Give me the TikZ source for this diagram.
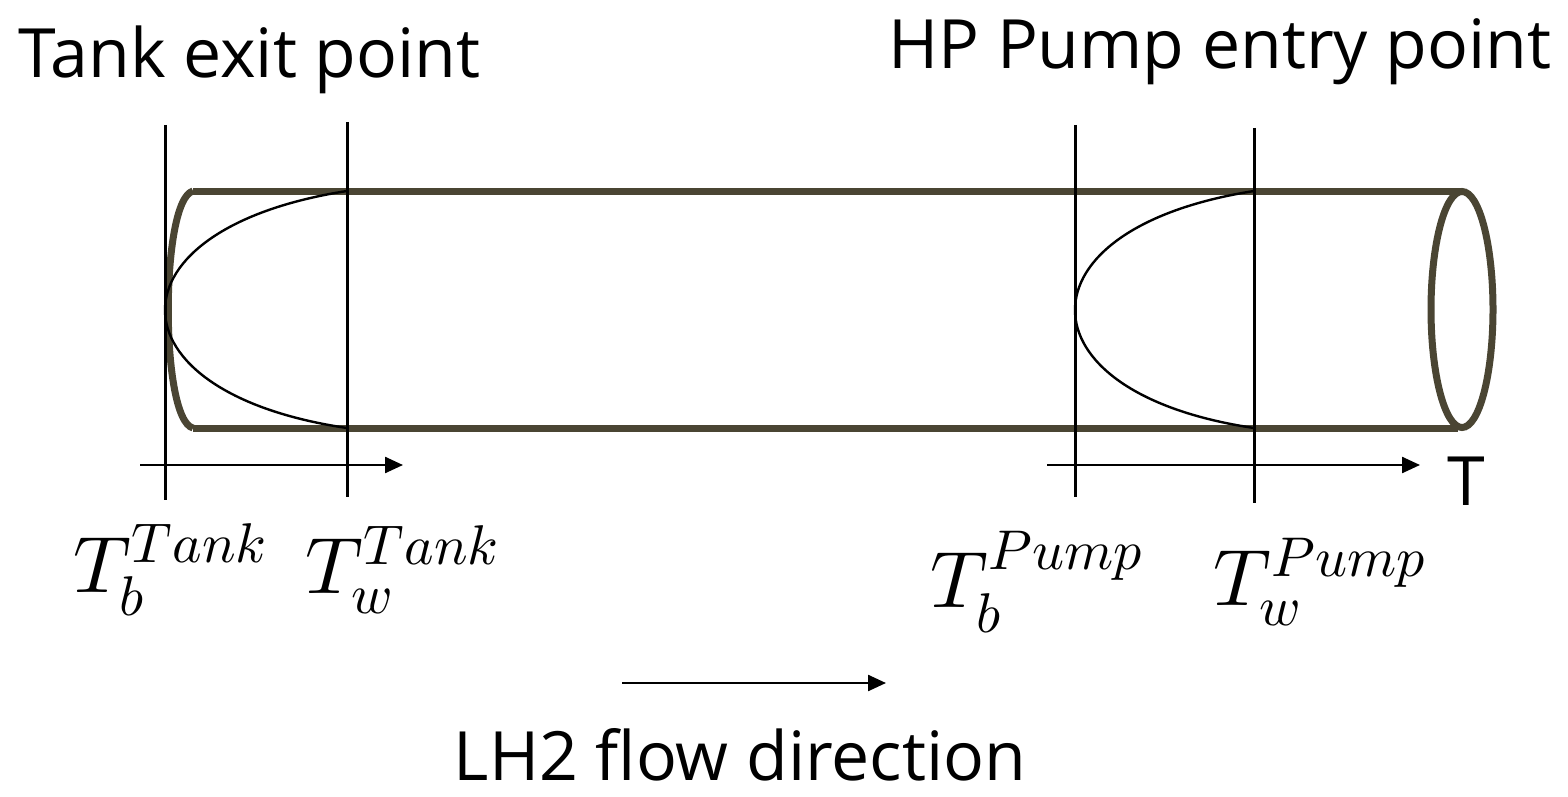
\documentclass[tikz,border=0pt]{standalone}
\usepackage{fontspec}
\usepackage{unicode-math}
\setmainfont{Open Sans}
\setmathfont{Latin Modern Math}
\usetikzlibrary{arrows.meta}
\definecolor{pipe}{HTML}{4A4533}
\begin{document}
\begin{tikzpicture}[x=0.5pt,y=-0.5pt,
  pipe/.style={draw=pipe,line width=3.5pt},
  vl/.style={draw=black,line width=1.5pt},
  ar/.style={draw=black,line width=1.2pt,-{Triangle[length=9pt,width=8pt]}},
  lab/.style={font=\fontsize{34}{38}\selectfont,inner sep=0pt},
  mth/.style={font=\fontsize{40}{44}\selectfont,inner sep=0pt}]
\useasboundingbox (0,0) rectangle (1568,797);
\draw[pipe] (193,191) -- (1462,191);
\draw[pipe] (193,428) -- (1458,428);
\draw[pipe] (193,191) .. controls (160,200) and (160,420) .. (193,428);
\draw[pipe] (1462,309.5) ellipse [x radius=31, y radius=118];
\draw[vl] (165,125) -- (165,500);
\draw[vl] (347,122) -- (347,497);
\draw[vl] (1075,125) -- (1075,497);
\draw[vl] (1254,128) -- (1254,503);
\draw[line width=1.2pt] (347,191) .. controls (225,210) and (165,260) .. (165,310) .. controls (165,360) and (225,410) .. (347,428);
\draw[line width=1.2pt] (1254,191) .. controls (1133,210) and (1075,260) .. (1075,310) .. controls (1075,360) and (1133,410) .. (1254,428);
\coordinate (a1) at (140,465); \coordinate (a2) at (403,465);
\coordinate (b1) at (1047,465); \coordinate (b2) at (1420,465);
\coordinate (c1) at (622,683); \coordinate (c2) at (886,683);
\draw[ar] (a1) -- (a2);
\draw[ar] (b1) -- (b2);
\draw[ar] (c1) -- (c2);
\node[lab,anchor=west] (t1) at (18,60) {Tank exit point};
\node[lab,anchor=east] (t2) at (1552,52) {HP Pump entry point};
\node[lab] (T) at (1466,481) {T};
\node[lab] (flow) at (740,755) {LH2 flow direction};
\node[mth] (m1) at (170,570) {$T_b^{Tank}$};
\node[mth] (m2) at (402,570) {$T_w^{Tank}$};
\node[mth] (m3) at (1037,582) {$T_b^{Pump}$};
\node[mth] (m4) at (1320,582) {$T_w^{Pump}$};
\end{tikzpicture}
\end{document}
